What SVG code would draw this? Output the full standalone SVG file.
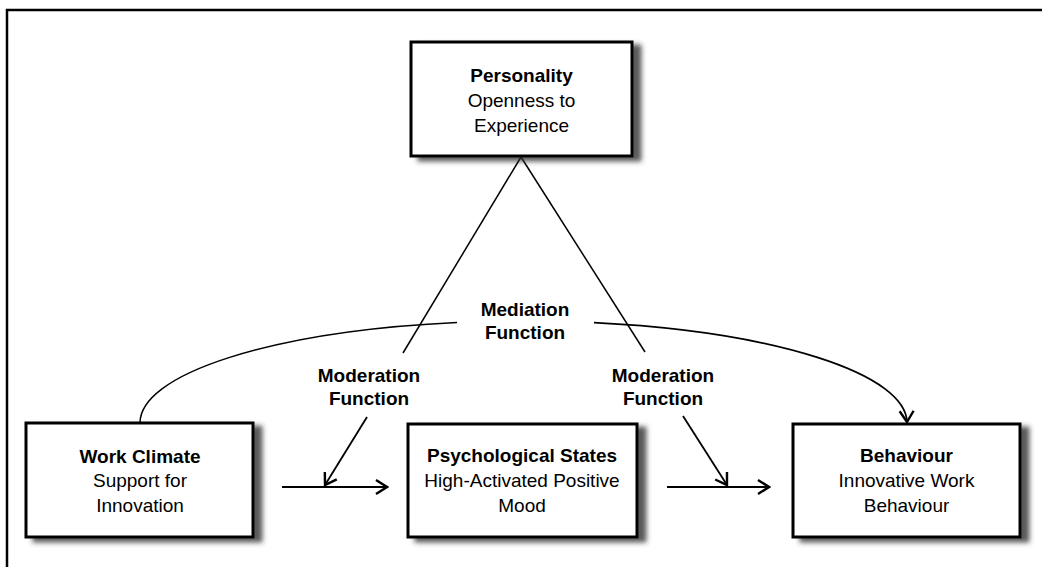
<svg xmlns="http://www.w3.org/2000/svg" width="1042" height="567" viewBox="0 0 1042 567">
<style>
.box{fill:#fff;stroke:#000;stroke-width:3;filter:url(#sh)}
text{font-family:"Liberation Sans",Arial,sans-serif;font-size:19px;text-anchor:middle;fill:#000}
.b{font-weight:bold}
.ln{fill:none;stroke:#000;stroke-width:1.5}
.ar{fill:none;stroke:#000;stroke-width:1.8;marker-end:url(#a)}
</style>
<defs>
<filter id="sh" x="-10%" y="-10%" width="130%" height="130%">
<feDropShadow dx="8" dy="4" stdDeviation="2.5" flood-color="#333" flood-opacity="0.8"/>
</filter>
<marker id="a" viewBox="-15 -10 17 20" markerWidth="17" markerHeight="20" refX="0" refY="0" orient="auto" markerUnits="userSpaceOnUse">
<path d="M-11,-7 L0,0 L-11,7" fill="none" stroke="#000" stroke-width="2.4"/>
</marker>
</defs>
<rect x="7" y="10" width="1100" height="600" fill="#fff" stroke="#000" stroke-width="2.5"/>
<g id="connectors">
<path class="ln" d="M521,157 L403,353"/>
<path class="ln" d="M521,157 L645,352"/>
<path class="ln" d="M140,423 A383.5,102 0 0,1 457,322.5"/>
<path class="ar" d="M594,322.7 A383.5,102 0 0,1 907,422"/>
<path class="ar" d="M282,487 L387,487"/>
<path class="ar" d="M367,417 L325,485"/>
<path class="ar" d="M667,487 L769,487"/>
<path class="ar" d="M683,416 L727,485"/>
</g>
<g id="personality">
<rect class="box" x="411" y="42" width="221" height="114"/>
<text x="521.5" y="82" class="b">Personality</text>
<text x="521.5" y="107">Openness to</text>
<text x="521.5" y="132">Experience</text>
</g>
<g id="work-climate">
<rect class="box" x="26" y="423" width="227" height="114"/>
<text x="140" y="463" class="b">Work Climate</text>
<text x="140" y="487">Support for</text>
<text x="140" y="512">Innovation</text>
</g>
<g id="psychological-states">
<rect class="box" x="408" y="424" width="229" height="113"/>
<text x="522" y="462" class="b">Psychological States</text>
<text x="522" y="487">High-Activated Positive</text>
<text x="522" y="512">Mood</text>
</g>
<g id="behaviour">
<rect class="box" x="793" y="424" width="227" height="113"/>
<text x="906.5" y="462" class="b">Behaviour</text>
<text x="906.5" y="487">Innovative Work</text>
<text x="906.5" y="512">Behaviour</text>
</g>
<g id="labels">
<text x="525" y="316" class="b">Mediation</text>
<text x="525" y="339" class="b">Function</text>
<text x="369" y="382" class="b">Moderation</text>
<text x="369" y="405" class="b">Function</text>
<text x="663" y="382" class="b">Moderation</text>
<text x="663" y="405" class="b">Function</text>
</g>
</svg>
